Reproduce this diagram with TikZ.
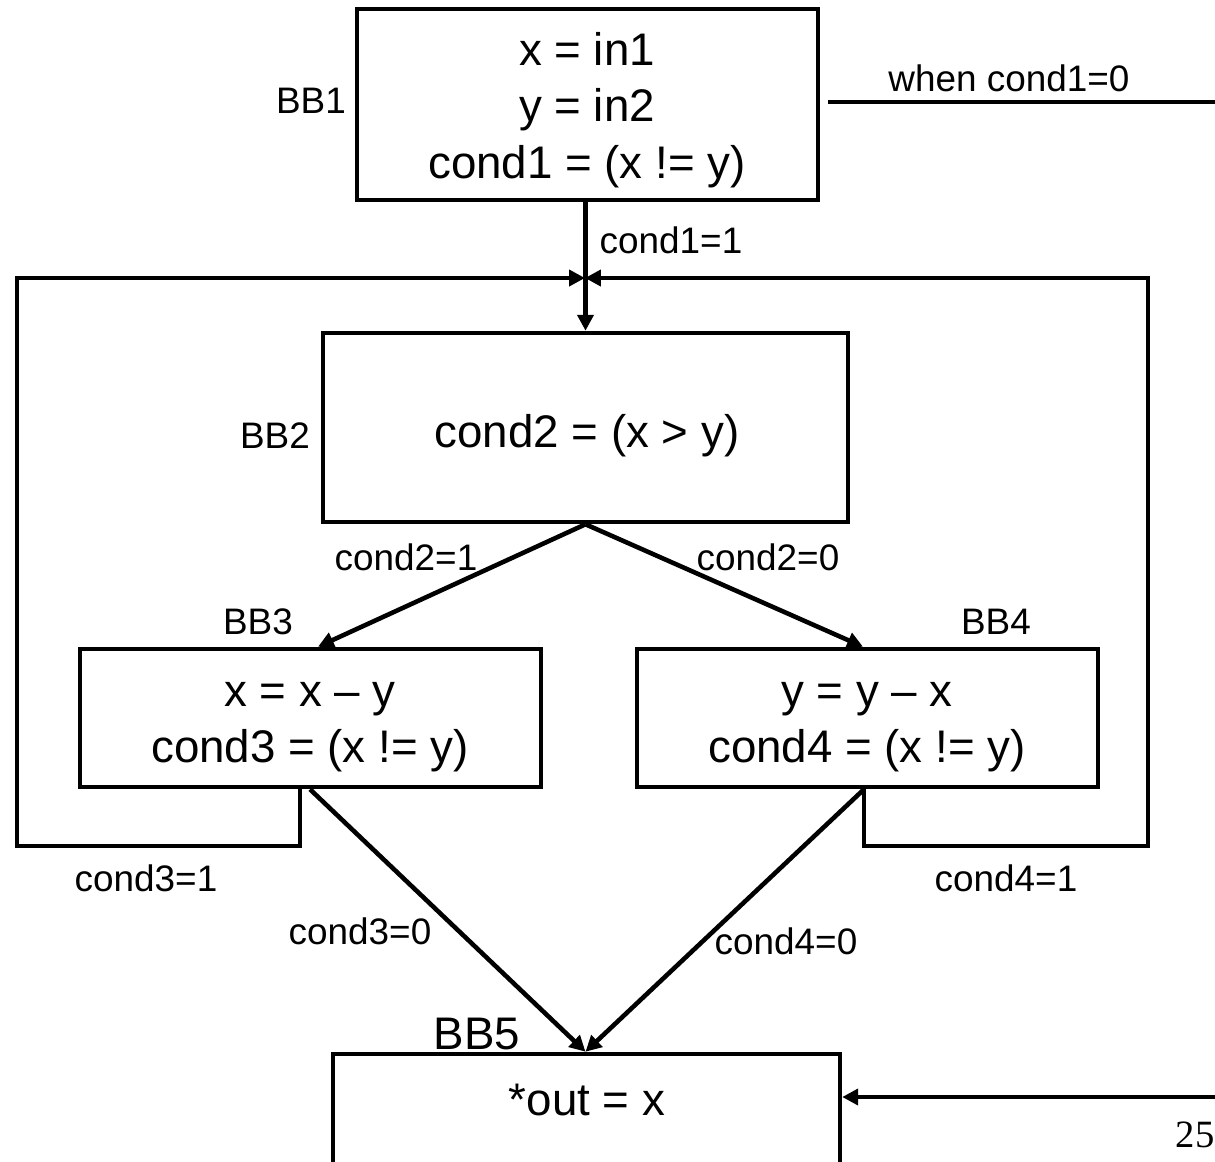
\documentclass[tikz,border=0pt]{standalone}
\usepackage{fontspec}
\setmainfont{Liberation Sans}
\newfontfamily\pagenumfont{Liberation Serif}
\usetikzlibrary{arrows.meta}
\begin{document}
\begin{tikzpicture}[x=0.02cm,y=-0.02cm,
  line width=2.6pt,
  arr/.style={-{Triangle[length=9pt,width=9pt]}},
  bbox/.style={draw,rectangle,inner sep=0pt,line width=2.6pt},
  code/.style={inner sep=0pt,align=center,font=\fontsize{26}{32}\selectfont},
  tag/.style={inner sep=0pt,font=\fontsize{21}{25}\selectfont},
]
% page frame
\clip (0,0) rectangle (1215,1161);
\useasboundingbox (0,0) rectangle (1215,1161);

% basic blocks
\node[bbox,minimum width=9.22cm,minimum height=3.82cm] (bb1) at (587.5,104.5) {};
\node[bbox,minimum width=10.5cm,minimum height=3.78cm] (bb2) at (585.5,427.5) {};
\node[bbox,minimum width=9.22cm,minimum height=2.76cm] (bb3) at (310.5,718) {};
\node[bbox,minimum width=9.22cm,minimum height=2.76cm] (bb4) at (867.5,718) {};
\node[bbox,minimum width=10.14cm,minimum height=4.2cm] (bb5) at (586.5,1159) {};

% block contents
\node[code] (c1) at (587,110) {x = in1\\y = in2\\cond1 = (x != y)};
\node[code] (c2) at (587,436) {cond2 = (x > y)};
\node[code] (c3) at (310,727) {x = x – y\\cond3 = (x != y)};
\node[code] (c4) at (867,727) {y = y – x\\cond4 = (x != y)};
\node[code] (c5) at (587,1100) {*out = x};

% block names
\node[tag] (n1) at (311,101) {BB1};
\node[tag] (n2) at (275,436) {BB2};
\node[tag] (n3) at (258,622) {BB3};
\node[tag] (n4) at (996,622) {BB4};
\node[code] (n5) at (477,1034) {BB5};

% junction points
\coordinate (join) at (585,278);
\coordinate (l1) at (300,846);
\coordinate (l2) at (17,846);
\coordinate (l3) at (17,278);
\coordinate (r1) at (864,846);
\coordinate (r2) at (1148,846);
\coordinate (r3) at (1148,278);
\coordinate (e1) at (1220,102);
\coordinate (e2) at (1220,1097);

% edges
\draw[arr] (bb1.south -| bb2.north) -- (bb2.north);
\draw[arr] (bb3.south -| l1) -- (l1) -- (l2) -- (l3) -- (join);
\draw[arr] (bb4.south -| r1) -- (r1) -- (r2) -- (r3) -- (join);
\draw[arr] (bb2.south) -- (bb3.north -| 318,0);
\draw[arr] (bb2.south) -- (bb4.north -| 863,0);
\draw[arr] (bb3.south -| 310,0) -- (bb5.north -| bb2.south);
\draw[arr] (bb4.south -| 864,0) -- (bb5.north -| bb2.south);
\draw ([xshift=0.16cm]bb1.east |- e1) -- (e1);
\draw[arr] (e2) -- (e2 -| bb5.east);

% edge labels
\node[tag] (t11) at (671,240) {cond1=1};
\node[tag] (t10) at (1009,78) {when cond1=0};
\node[tag] (t21) at (406,557) {cond2=1};
\node[tag] (t20) at (768,557) {cond2=0};
\node[tag] (t31) at (146,878) {cond3=1};
\node[tag] (t41) at (1006,878) {cond4=1};
\node[tag] (t30) at (360,931) {cond3=0};
\node[tag] (t40) at (786,941) {cond4=0};

% page number
\node[inner sep=0pt,font=\pagenumfont\fontsize{22}{26}\selectfont] (pg) at (1195,1135) {25};
\end{tikzpicture}
\end{document}
